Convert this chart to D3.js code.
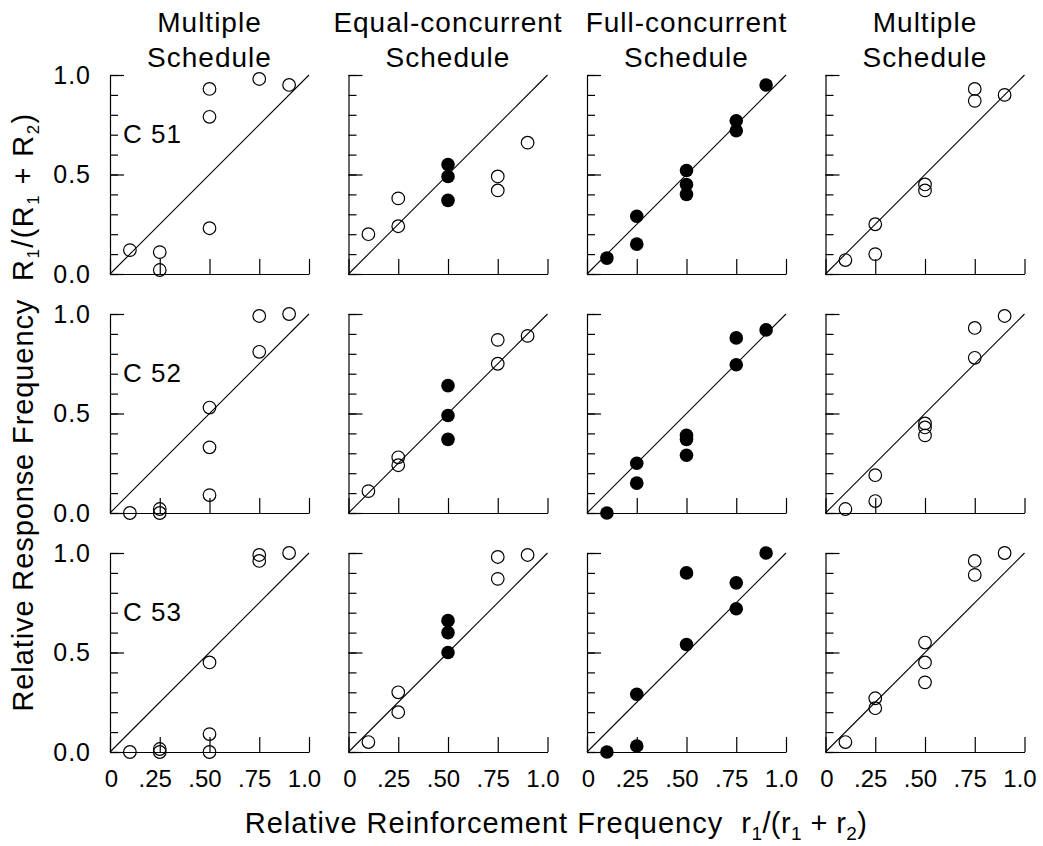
<!DOCTYPE html>
<html>
<head>
<meta charset="utf-8">
<script src="https://cdn.jsdelivr.net/npm/d3@7"></script>
<style>
  body { margin: 0; background: #fff; }
  svg text { font-family: Arial, 'Liberation Sans', Helvetica, sans-serif; fill: #000; white-space: pre; }
</style>
</head>
<body>
<svg id="chart" width="1043" height="846"></svg>
<script>
const columnTitles = [
  ['Multiple', 'Schedule'],
  ['Equal-concurrent', 'Schedule'],
  ['Full-concurrent', 'Schedule'],
  ['Multiple', 'Schedule']
];
const subjects = ['C 51', 'C 52', 'C 53'];
const xTickValues = [0, 0.25, 0.5, 0.75, 1];
const xTickLabels = ['0', '.25', '.50', '.75', '1.0'];
const yMajorTicks = [0, 0.5, 1];
const yMinorTicks = d3.range(0, 11).map(d => d / 10);

// one entry per column: open circles and filled circles, [r1/(r1+r2), R1/(R1+R2)]
const c51 = [
  { open: [[0.1, 0.12], [0.25, 0.11], [0.25, 0.02], [0.5, 0.93], [0.5, 0.79], [0.5, 0.23], [0.75, 0.98], [0.9, 0.95]], filled: [] },
  { open: [[0.1, 0.2], [0.25, 0.38], [0.25, 0.24], [0.75, 0.49], [0.75, 0.42], [0.9, 0.66]], filled: [[0.5, 0.55], [0.5, 0.49], [0.5, 0.37]] },
  { open: [], filled: [[0.1, 0.08], [0.25, 0.29], [0.25, 0.15], [0.5, 0.52], [0.5, 0.45], [0.5, 0.4], [0.75, 0.77], [0.75, 0.72], [0.9, 0.95]] },
  { open: [[0.1, 0.07], [0.25, 0.1], [0.25, 0.25], [0.5, 0.45], [0.5, 0.42], [0.75, 0.93], [0.75, 0.87], [0.9, 0.9]], filled: [] }
];
const c52 = [
  { open: [[0.1, 0], [0.25, 0.02], [0.25, 0], [0.5, 0.53], [0.5, 0.33], [0.5, 0.09], [0.75, 0.99], [0.75, 0.81], [0.9, 1.0]], filled: [] },
  { open: [[0.1, 0.11], [0.25, 0.28], [0.25, 0.24], [0.75, 0.87], [0.75, 0.75], [0.9, 0.89]], filled: [[0.5, 0.64], [0.5, 0.49], [0.5, 0.37]] },
  { open: [], filled: [[0.1, 0], [0.25, 0.25], [0.25, 0.15], [0.5, 0.39], [0.5, 0.37], [0.5, 0.29], [0.75, 0.88], [0.75, 0.745], [0.9, 0.92]] },
  { open: [[0.1, 0.02], [0.25, 0.06], [0.25, 0.19], [0.5, 0.45], [0.5, 0.43], [0.5, 0.39], [0.75, 0.93], [0.75, 0.78], [0.9, 0.99]], filled: [] }
];
const c53 = [
  { open: [[0.1, 0], [0.25, 0.015], [0.25, 0], [0.5, 0.45], [0.5, 0.09], [0.5, 0], [0.75, 0.99], [0.75, 0.96], [0.9, 1.0]], filled: [] },
  { open: [[0.1, 0.05], [0.25, 0.3], [0.25, 0.2], [0.75, 0.98], [0.75, 0.87], [0.9, 0.99]], filled: [[0.5, 0.66], [0.5, 0.6], [0.5, 0.5]] },
  { open: [], filled: [[0.1, 0], [0.25, 0.03], [0.25, 0.29], [0.5, 0.9], [0.5, 0.54], [0.75, 0.85], [0.75, 0.72], [0.9, 1.0]] },
  { open: [[0.1, 0.05], [0.25, 0.27], [0.25, 0.22], [0.5, 0.55], [0.5, 0.45], [0.5, 0.35], [0.75, 0.96], [0.75, 0.89], [0.9, 1.0]], filled: [] }
];
const rows = [c51, c52, c53];

const size = 199;
const colX = d3.range(4).map(i => 110 + i * 238.5);
const rowY = d3.range(3).map(j => 75 + j * 239);
const radius = 6.3;

const svg = d3.select('#chart');

// column headings
columnTitles.forEach((lines, i) => {
  svg.append('text')
    .attr('x', colX[i] + size / 2)
    .attr('text-anchor', 'middle')
    .style('font-size', '28px')
    .style('letter-spacing', '1px')
    .selectAll('tspan')
    .data(lines)
    .join('tspan')
      .attr('x', colX[i] + size / 2)
      .attr('y', (d, k) => 32 + k * 35)
      .text(d => d);
});

rows.forEach((panels, j) => {
  panels.forEach((panel, i) => {
    const x = d3.scaleLinear().domain([0, 1]).range([colX[i], colX[i] + size]);
    const y = d3.scaleLinear().domain([0, 1]).range([rowY[j] + size, rowY[j]]);
    const g = svg.append('g');

    // minor ticks on the left axis, pointing inward
    g.append('g')
      .attr('transform', `translate(${x(0)},0)`)
      .call(d3.axisRight(y).tickValues(yMinorTicks).tickSize(8).tickSizeOuter(0).tickFormat(''))
      .call(a => a.select('.domain').remove());

    // major ticks, labels only in the first column
    const yAxis = g.append('g')
      .attr('transform', `translate(${x(0)},0)`)
      .call(d3.axisLeft(y).tickValues(yMajorTicks).tickSizeInner(-14).tickSizeOuter(0)
        .tickPadding(19).tickFormat(i === 0 ? d3.format('.1f') : ''));
    yAxis.selectAll('text').style('font-size', '25px').style('letter-spacing', '1px');

    // bottom axis, ticks pointing up
    const xAxis = g.append('g')
      .attr('transform', `translate(0,${y(0)})`)
      .call(d3.axisBottom(x).tickValues(xTickValues).tickSizeInner(-15).tickSizeOuter(0)
        .tickPadding(18).tickFormat((d, k) => j === 2 ? xTickLabels[k] : ''));
    xAxis.selectAll('text').style('font-size', '24px')
      .attr('dx', d => d === 0 ? 1 : -5);

    g.selectAll('.domain, .tick line').attr('stroke', '#000').attr('stroke-width', 1.2);

    // identity line
    g.append('line')
      .attr('x1', x(0)).attr('y1', y(0))
      .attr('x2', x(1)).attr('y2', y(1))
      .attr('stroke', '#000')
      .attr('stroke-width', 1.1);

    g.selectAll('circle.open')
      .data(panel.open)
      .join('circle')
        .attr('class', 'open')
        .attr('cx', d => x(d[0]))
        .attr('cy', d => y(d[1]))
        .attr('r', radius)
        .attr('fill', 'none')
        .attr('stroke', '#000')
        .attr('stroke-width', 1.2);

    g.selectAll('circle.filled')
      .data(panel.filled)
      .join('circle')
        .attr('class', 'filled')
        .attr('cx', d => x(d[0]))
        .attr('cy', d => y(d[1]))
        .attr('r', radius + 0.5)
        .attr('fill', '#000');

    if (i === 0) {
      g.append('text')
        .attr('x', x(0) + 13)
        .attr('y', y(1) + 68)
        .style('font-size', '26px')
        .style('letter-spacing', '1px')
        .text(subjects[j]);
    }
  });
});

/**
 * Append text with subscripts: parts are [string, isSubscript]
 */
function richText (sel, parts, subSize, shift, spacing) {
  let shifted = false;
  parts.forEach(([str, sub]) => {
    const t = sel.append('tspan').text(str);
    if (spacing !== undefined) t.style('letter-spacing', `${spacing}px`);
    if (sub) {
      t.style('font-size', `${subSize}px`).attr('dy', shifted ? 0 : shift);
      shifted = true;
    } else {
      t.attr('dy', shifted ? -shift : 0);
      shifted = false;
    }
  });
}

const yTitle = svg.append('text')
  .attr('transform', 'translate(33,412) rotate(-90)')
  .attr('text-anchor', 'middle')
  .style('font-size', '29px')
  .style('letter-spacing', '0.9px');
yTitle.append('tspan').text('Relative Response Frequency  ');
richText(yTitle, [['R'], ['1', true], ['/(R'], ['1', true], [' + R'], ['2', true], [')']], 17, 6, 1.4);

const xTitle = svg.append('text')
  .attr('x', 556)
  .attr('y', 833)
  .attr('text-anchor', 'middle')
  .style('font-size', '29px')
  .style('letter-spacing', '1px');
xTitle.append('tspan').text('Relative Reinforcement Frequency  ');
richText(xTitle, [['r'], ['1', true], ['/(r'], ['1', true], [' + r'], ['2', true], [')']], 19, 7, 0.4);
</script>
</body>
</html>
